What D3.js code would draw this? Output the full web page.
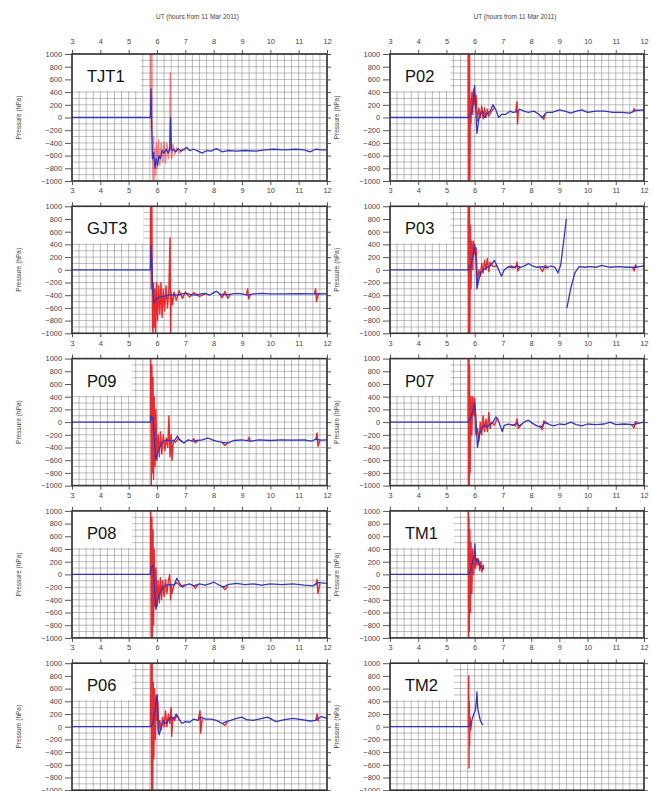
<!DOCTYPE html>
<html>
<head>
<meta charset="utf-8">
<script src="https://cdn.jsdelivr.net/npm/d3@7"></script>
<style>
  body { margin: 0; background: #fff; }
  svg { display: block; font-family: "Liberation Sans", Arial, sans-serif; }
</style>
</head>
<body>
<div id="container"></div>
<script>
// tick values
const hours = [3, 4, 5, 6, 7, 8, 9, 10, 11, 12];
const pressureTicks = [1000, 800, 600, 400, 200, 0, -200, -400, -600, -800, -1000];

// station traces: [hour, hPa]; [null, null] breaks the line
const tjt1Blue = [[3,0],[5.77,0],[5.79,450],[5.81,-100],[5.84,-650],[5.88,-550],[5.93,-800],[5.97,-650],[6.02,-750],[6.07,-600],[6.12,-650],[6.18,-520],[6.25,-560],[6.32,-500],[6.40,-560],[6.45,-480],[6.48,0],[6.51,-520],[6.58,-500],[6.66,-540],[6.75,-490],[6.85,-530],[6.95,-500],[7.05,-470],[7.15,-520],[7.3,-500],[7.45,-530],[7.6,-560],[7.75,-520],[7.9,-530],[8.1,-490],[8.3,-540],[8.5,-520],[8.8,-530],[9.1,-520],[9.5,-530],[9.8,-510],[10.1,-500],[10.5,-510],[10.9,-500],[11.2,-510],[11.4,-540],[11.6,-500],[11.8,-510],[12,-510]];
const tjt1Red = [[5.77,0],[5.78,1000],[5.80,-200],[5.82,1000],[5.84,-600],[5.86,-1000],[5.88,-300],[5.90,-1000],[5.92,-500],[5.95,-900],[5.98,-400],[6.02,-800],[6.06,-350],[6.10,-750],[6.15,-400],[6.20,-700],[6.25,-380],[6.30,-720],[6.35,-400],[6.40,-650],[6.45,-450],[6.47,700],[6.49,-500],[6.52,-650],[6.56,-420],[6.62,-580],[6.70,-480],[6.80,-560],[6.9,-500],[7.0,-520]];

const gjt3Blue = [[3,0],[5.77,0],[5.79,380],[5.82,100],[5.85,-350],[5.9,-520],[5.95,-480],[6.0,-440],[6.1,-430],[6.2,-420],[6.3,-410],[6.45,-400],[6.6,-390],[6.75,-400],[6.9,-380],[7.05,-370],[7.2,-390],[7.4,-400],[7.55,-380],[7.7,-370],[7.85,-400],[8.0,-360],[8.1,-340],[8.25,-390],[8.5,-390],[8.8,-370],[9.0,-380],[9.2,-400],[9.4,-380],[9.7,-370],[10.0,-380],[10.5,-380],[11.0,-375],[11.5,-380],[11.7,-375],[12,-380]];
const gjt3Red = [[5.77,0],[5.78,1000],[5.80,-300],[5.82,1000],[5.84,-900],[5.86,-1000],[5.88,-200],[5.90,-900],[5.92,-300],[5.95,-1000],[5.98,-200],[6.02,-800],[6.06,-250],[6.10,-700],[6.14,-200],[6.18,-750],[6.22,-300],[6.27,-650],[6.32,-250],[6.37,-600],[6.42,-300],[6.46,500],[6.48,-1000],[6.50,-350],[6.55,-550],[6.60,-350],[6.68,-480],[6.78,-330],[6.9,-450],[7.0,-350],[7.15,-430],[7.3,-360],[7.5,-420],[7.7,-380],[null,null],[8.2,-380],[8.3,-440],[8.4,-340],[8.5,-450],[8.6,-380],[null,null],[9.15,-390],[9.2,-300],[9.23,-460],[9.3,-390],[null,null],[11.55,-380],[11.6,-300],[11.63,-500],[11.7,-370]];

const p09Blue = [[3,0],[5.77,0],[5.79,100],[5.83,50],[5.86,80],[5.9,-200],[5.95,-600],[6.0,-500],[6.08,-420],[6.15,-330],[6.25,-300],[6.35,-280],[6.5,-300],[6.62,-290],[6.72,-220],[6.8,-280],[6.95,-330],[7.1,-280],[7.25,-300],[7.4,-290],[7.6,-280],[7.8,-250],[7.95,-280],[8.1,-300],[8.3,-320],[8.5,-330],[8.7,-290],[9.0,-280],[9.3,-300],[9.6,-280],[10.0,-290],[10.4,-280],[10.8,-285],[11.2,-280],[11.45,-300],[11.6,-270],[11.8,-285],[12,-280]];
const p09Red = [[5.77,0],[5.78,1000],[5.80,-1000],[5.82,900],[5.84,-800],[5.86,700],[5.88,-900],[5.90,400],[5.93,-700],[5.96,200],[6.0,-600],[6.04,-200],[6.08,-550],[6.12,-150],[6.17,-500],[6.22,-200],[6.28,-450],[6.33,-250],[6.38,-400],[6.42,100],[6.46,-550],[6.5,-200],[6.53,-600],[6.58,-280],[6.65,-320],[6.75,-260],[6.9,-310],[null,null],[7.25,-290],[7.3,-260],[7.35,-330],[7.45,-290],[null,null],[8.3,-320],[8.4,-370],[8.5,-320],[null,null],[9.2,-290],[9.25,-240],[9.3,-300],[null,null],[11.6,-280],[11.65,-170],[11.68,-380],[11.75,-290]];

const p08Blue = [[3,0],[5.77,0],[5.8,100],[5.85,150],[5.88,50],[5.92,-300],[5.96,-550],[6.02,-400],[6.1,-300],[6.2,-200],[6.3,-170],[6.45,-160],[6.6,-170],[6.7,-60],[6.8,-140],[6.9,-200],[7.0,-170],[7.15,-150],[7.3,-180],[7.5,-150],[7.7,-170],[7.9,-140],[8.0,-120],[8.2,-170],[8.35,-200],[8.5,-160],[8.8,-140],[9.1,-160],[9.4,-150],[9.7,-170],[10.0,-150],[10.4,-160],[10.8,-150],[11.2,-170],[11.5,-180],[11.7,-130],[12,-140]];
const p08Red = [[5.77,0],[5.78,1000],[5.80,-1000],[5.82,900],[5.84,-1000],[5.86,700],[5.88,-800],[5.90,400],[5.93,-500],[5.96,100],[6.0,-500],[6.04,-100],[6.08,-450],[6.12,-50],[6.16,-400],[6.2,-100],[6.25,-350],[6.3,-80],[6.35,-300],[6.4,-100],[6.45,0],[6.48,-400],[6.5,-150],[6.53,-300],[6.6,-160],[6.7,-130],[6.85,-190],[7.0,-160],[null,null],[7.3,-170],[7.35,-220],[7.45,-160],[null,null],[8.3,-190],[8.4,-240],[8.5,-180],[null,null],[11.6,-170],[11.65,-80],[11.68,-300],[11.75,-150]];

const p06Blue = [[3,0],[5.77,0],[5.8,0],[5.85,50],[5.92,250],[5.98,450],[6.01,500],[6.04,-50],[6.08,-130],[6.15,0],[6.22,100],[6.3,50],[6.4,100],[6.5,150],[6.6,130],[6.68,200],[6.78,120],[6.88,50],[7.0,80],[7.15,70],[7.3,120],[7.45,100],[7.55,150],[7.7,120],[7.9,120],[8.1,100],[8.3,50],[8.45,80],[8.6,100],[8.8,130],[9.0,150],[9.15,110],[9.4,100],[9.6,120],[9.9,150],[10.2,80],[10.5,110],[10.8,130],[11.1,110],[11.4,90],[11.6,100],[11.8,160],[12,130]];
const p06Red = [[5.77,0],[5.79,1000],[5.81,-1000],[5.83,1000],[5.85,-1000],[5.87,700],[5.89,-500],[5.91,600],[5.94,-200],[5.97,500],[6.0,100],[6.03,400],[6.06,-100],[6.1,100],[6.15,-50],[6.2,150],[6.25,0],[6.3,250],[6.35,0],[6.4,200],[6.45,50],[6.5,300],[6.52,-150],[6.56,150],[6.62,100],[6.7,180],[6.8,100],[null,null],[7.45,100],[7.52,250],[7.54,-100],[7.6,130],[null,null],[8.3,50],[8.4,20],[8.5,80],[null,null],[11.6,100],[11.65,200],[11.7,80]];

const p02Blue = [[3,0],[5.77,0],[5.8,0],[5.85,50],[5.9,100],[5.95,250],[6.0,500],[6.04,100],[6.08,-250],[6.14,-50],[6.2,50],[6.28,100],[6.35,0],[6.45,60],[6.55,100],[6.65,200],[6.75,120],[6.85,0],[6.95,50],[7.1,50],[7.25,100],[7.35,80],[7.5,90],[7.6,130],[7.75,100],[7.9,80],[8.1,100],[8.25,60],[8.4,0],[8.55,80],[8.75,80],[9.0,120],[9.2,100],[9.4,70],[9.6,100],[9.8,120],[10.0,80],[10.3,100],[10.6,100],[10.9,80],[11.2,80],[11.5,70],[11.7,110],[12,120]];
const p02Red = [[5.77,0],[5.78,1000],[5.79,-1000],[5.80,1000],[5.81,-1000],[5.82,1000],[5.83,-1000],[5.85,300],[5.87,-100],[5.9,400],[5.93,50],[5.96,450],[6.0,200],[6.05,350],[6.1,-50],[6.15,150],[6.2,0],[6.25,180],[6.3,-20],[6.35,150],[6.4,0],[6.45,130],[6.5,20],[6.6,100],[6.7,150],[null,null],[7.45,90],[7.5,250],[7.52,-100],[7.55,100],[null,null],[8.35,20],[8.45,-30],[8.5,60],[null,null],[11.6,80],[11.65,140],[11.7,100]];

const p03Blue = [[3,0],[5.77,0],[5.8,0],[5.88,100],[5.95,250],[6.0,400],[6.04,200],[6.08,-300],[6.15,-150],[6.22,-50],[6.3,0],[6.4,30],[6.55,60],[6.7,150],[6.8,50],[6.9,-50],[6.95,-100],[7.05,0],[7.2,50],[7.35,30],[7.5,60],[7.65,40],[7.8,70],[7.9,100],[8.05,60],[8.2,40],[8.4,50],[8.55,30],[8.7,60],[8.85,40],[8.95,-50],[9.05,80],[9.25,800],[null,null],[9.27,-600],[9.4,-300],[9.55,-50],[9.7,50],[9.9,40],[10.1,50],[10.3,40],[10.5,70],[10.8,40],[11.1,50],[11.4,40],[11.7,40],[11.85,50],[12,60]];
const p03Red = [[5.77,0],[5.78,1000],[5.79,-1000],[5.80,1000],[5.81,-1000],[5.82,1000],[5.83,-1000],[5.85,700],[5.87,-300],[5.9,450],[5.93,0],[5.96,450],[6.0,250],[6.05,350],[6.1,-200],[6.15,0],[6.2,-100],[6.25,100],[6.3,-50],[6.35,150],[6.4,0],[6.45,180],[6.5,-30],[6.55,120],[6.65,50],[6.8,60],[null,null],[7.2,40],[7.3,60],[7.45,30],[7.5,120],[7.53,-20],[7.6,50],[null,null],[8.3,50],[8.4,-30],[8.5,70],[8.6,30],[null,null],[11.6,40],[11.65,-20],[11.7,80],[11.75,40]];

const p07Blue = [[3,0],[5.77,0],[5.8,0],[5.87,80],[5.95,200],[6.0,300],[6.04,100],[6.1,-400],[6.17,-200],[6.25,-100],[6.35,-50],[6.45,-80],[6.55,-30],[6.65,0],[6.75,80],[6.82,50],[6.9,-50],[6.98,-150],[7.05,-50],[7.2,-30],[7.35,-50],[7.5,-20],[7.6,-60],[7.75,0],[7.9,30],[8.05,-20],[8.2,-60],[8.35,-80],[8.5,0],[8.65,-40],[8.8,-60],[9.0,-30],[9.2,-40],[9.4,0],[9.6,-40],[9.8,-60],[10.0,-30],[10.3,-40],[10.6,-30],[10.8,0],[11.0,-40],[11.3,-30],[11.6,-40],[11.8,-20],[12,0]];
const p07Red = [[5.77,0],[5.78,1000],[5.79,-1000],[5.80,1000],[5.81,-1000],[5.82,900],[5.84,-800],[5.87,400],[5.9,-200],[5.93,400],[5.97,100],[6.0,380],[6.04,-200],[6.1,-100],[6.15,-300],[6.2,0],[6.25,-200],[6.3,100],[6.35,-150],[6.4,50],[6.45,-150],[6.5,150],[6.55,-100],[6.6,0],[6.7,-50],[6.8,60],[null,null],[7.3,-40],[7.45,-60],[7.5,50],[7.55,-100],[7.65,-30],[null,null],[8.3,-50],[8.4,-120],[8.45,20],[8.55,-30],[null,null],[11.55,-40],[11.65,-90],[11.7,10],[11.8,-20]];

const tm1Blue = [[3,0],[5.77,0],[5.8,0],[5.87,80],[5.93,200],[5.98,300],[6.01,480],[6.03,250],[6.07,200],[6.12,250],[6.17,150],[6.22,120],[6.28,100],[6.32,80]];
const tm1Red = [[5.77,0],[5.78,1000],[5.79,-1000],[5.80,900],[5.81,-900],[5.83,700],[5.85,-600],[5.87,500],[5.9,-300],[5.93,400],[5.96,0],[6.0,300],[6.03,100],[6.07,250],[6.1,150],[6.14,220],[6.18,60],[6.22,200],[6.26,40],[6.3,150],[6.32,80]];

const tm2Blue = [[3,0],[5.8,0],[5.85,30],[5.9,100],[5.97,200],[6.02,250],[6.06,400],[6.08,550],[6.11,280],[6.15,200],[6.2,100],[6.25,50],[6.3,30]];
const tm2Red = [[5.78,0],[5.79,800],[5.80,-650],[5.81,400],[5.82,-300],[5.84,150],[5.86,-50],[5.9,80]];

const stations = ["TJT1", "P02", "GJT3", "P03", "P09", "P07", "P08", "TM1", "P06", "TM2"];
const blueSeries = [tjt1Blue, p02Blue, gjt3Blue, p03Blue, p09Blue, p07Blue, p08Blue, tm1Blue, p06Blue, tm2Blue];
const redSeries = [tjt1Red, p02Red, gjt3Red, p03Red, p09Red, p07Red, p08Red, tm1Red, p06Red, tm2Red];

const W = 653, H = 791;
const colX = [[72, 327], [390, 644]];
const panelH = 127;
const rowTop = i => 54 + i * 152.3;

const svg = d3.select("#container").append("svg")
  .attr("width", W).attr("height", H);

const tickCol = "#444";

stations.forEach((name, k) => {
  const col = k % 2, row = Math.floor(k / 2);
  const [x0, x1] = colX[col];
  const top = rowTop(row);

  const x = d3.scaleLinear().domain([3, 12]).range([x0, x1]);
  const y = d3.scaleLinear().domain([-1000, 1000]).range([top + panelH, top]);

  const g = svg.append("g");
  const clipId = "clip" + k;
  g.append("clipPath").attr("id", clipId)
    .append("rect").attr("x", x0).attr("y", top).attr("width", x1 - x0).attr("height", panelH);

  // grid
  const grid = g.append("g").attr("stroke", "#8f8f8f").attr("stroke-width", 0.6);
  grid.selectAll(".v").data(d3.range(3, 12.001, 0.25)).enter().append("line")
    .attr("x1", d => x(d)).attr("x2", d => x(d)).attr("y1", top).attr("y2", top + panelH);
  grid.selectAll(".h").data(d3.range(-1000, 1001, 100)).enter().append("line")
    .attr("y1", d => y(d)).attr("y2", d => y(d)).attr("x1", x0).attr("x2", x1);

  // station label box
  const label = g.append("text")
    .attr("x", x0 + 15).attr("y", top + 28)
    .attr("font-size", 16.5).attr("fill", "#111")
    .text(name);
  const tw = label.node().getComputedTextLength();
  g.insert("rect", "text")
    .attr("x", x0 + 1).attr("y", top + 1)
    .attr("width", tw + 30).attr("height", 36)
    .attr("fill", "#fff");

  const line = d3.line()
    .defined(d => d[0] != null && d[1] != null)
    .x(d => x(d[0])).y(d => y(d[1]));

  const traces = g.append("g").attr("clip-path", `url(#${clipId})`);
  traces.append("path").datum(redSeries[k])
    .attr("d", line).attr("fill", "none")
    .attr("stroke", "#e8141a").attr("stroke-width", 1.4)
    .attr("stroke-opacity", k === 0 ? 0.5 : 0.9)
    .attr("stroke-linejoin", "round");
  traces.append("path").datum(blueSeries[k])
    .attr("d", line).attr("fill", "none")
    .attr("stroke", "#3535bd").attr("stroke-width", 1.3)
    .attr("stroke-linejoin", "round");

  // frame
  g.append("rect").attr("x", x0).attr("y", top)
    .attr("width", x1 - x0).attr("height", panelH)
    .attr("fill", "none").attr("stroke", "#333").attr("stroke-width", 1.6);

  // axes (the last row's hour labels fall below the page, so only ticks there)
  const axTop = d3.axisTop(x).tickValues(hours).tickSize(4).tickPadding(6)
    .tickFormat(row === 0 ? d3.format("d") : "");
  const axBot = d3.axisBottom(x).tickValues(hours).tickSize(4).tickPadding(3)
    .tickFormat(row < 4 ? d3.format("d") : "");
  const axLeft = d3.axisLeft(y).tickValues(pressureTicks).tickSize(7).tickPadding(3)
    .tickFormat(d3.format("d"));
  const axRight = d3.axisRight(y).tickValues(pressureTicks).tickSize(4).tickFormat("");

  [[axTop, `translate(0,${top})`], [axBot, `translate(0,${top + panelH})`],
   [axLeft, `translate(${x0},0)`], [axRight, `translate(${x1},0)`]].forEach(([ax, tr]) => {
    const a = g.append("g").attr("transform", tr).call(ax);
    a.select(".domain").remove();
    a.selectAll(".tick line").attr("stroke", tickCol).attr("stroke-width", 0.9);
    a.selectAll(".tick text").attr("fill", "#444").attr("font-size", 7.4)
      .attr("font-family", "'Liberation Sans', Arial, sans-serif");
  });

  // y axis title
  g.append("text")
    .attr("transform", `translate(${x0 - 51},${top + panelH / 2}) rotate(-90)`)
    .attr("text-anchor", "middle").attr("font-size", 6.5).attr("fill", "#444")
    .text("Pressure (hPa)");

  // x axis title over the top row
  if (row === 0) {
    svg.append("text")
      .attr("x", (x0 + x1) / 2 - 2).attr("y", 19)
      .attr("text-anchor", "middle").attr("font-size", 6.5).attr("fill", "#444")
      .text("UT (hours from 11 Mar 2011)");
  }
});
</script>
</body>
</html>
